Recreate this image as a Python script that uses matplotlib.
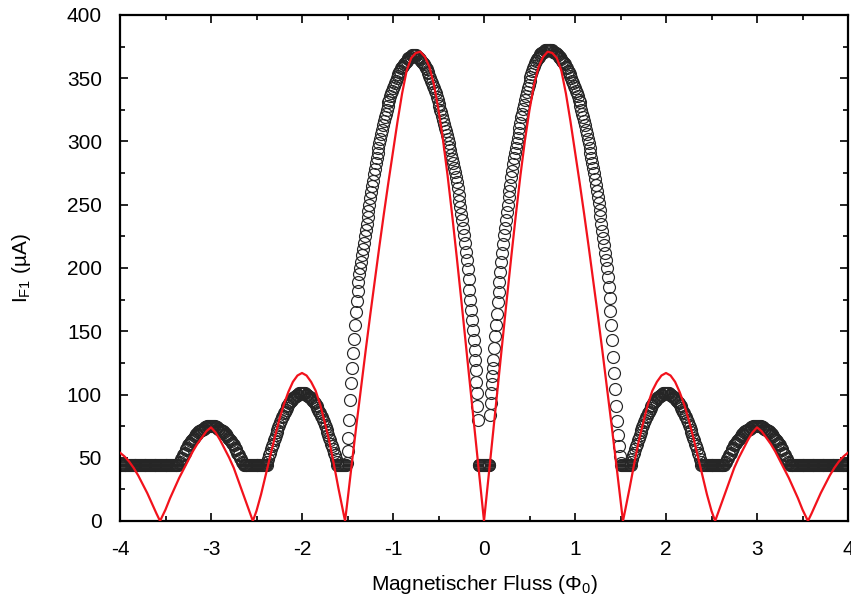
import numpy as np
import matplotlib
matplotlib.use("Agg")
import matplotlib.pyplot as plt
from matplotlib.ticker import MultipleLocator

plt.rcParams["font.family"] = ["Liberation Sans", "DejaVu Sans"]
plt.rcParams["mathtext.fontset"] = "custom"
plt.rcParams["mathtext.rm"] = "Liberation Sans"
plt.rcParams["mathtext.it"] = "Liberation Sans:italic"

# ---- measured critical current I_F1 (µA), stored per flux segment ----
# each entry below: (first flux value, flux step, currents)
floor_a = [44, 44, 44, 44, 44, 44, 44, 44, 44, 44, 44, 44, 44, 44, 44, 44,
           44, 44, 44, 44, 44, 44, 44, 44, 44, 44, 44, 44, 44, 44, 44, 44,
           44, 44, 44, 44, 44, 44, 44, 44, 44, 44, 44, 44, 44, 44, 44, 44,
           44, 44, 44, 44, 44, 44, 44, 44, 44, 44, 44, 44, 44, 44, 44, 44]
lobe_m3 = [44, 46, 47, 49, 50, 52, 53, 54, 56, 57, 58, 60, 61, 62, 63, 64, 65, 66, 67, 68,
           69, 69, 70, 71, 71, 72, 72, 73, 73, 74, 74, 74, 75, 75, 75, 75,
           75, 75, 75, 75, 75, 74, 74, 74, 73, 73, 72, 72, 71, 71, 70, 69, 69, 68, 67, 66,
           65, 64, 63, 62, 61, 60, 58, 57, 56, 54, 53, 52, 50, 49, 47, 46, 44]
floor_b = [44, 44, 44, 44, 44, 44, 44, 44, 44, 44, 44, 44, 44, 44, 44, 44,
           44, 44, 44, 44, 44, 44, 44, 44, 44]
lobe_m2 = [47, 49, 52, 54, 57, 59, 61, 64, 66, 68, 70, 72, 74, 76, 78, 80, 82, 83, 85, 86,
           88, 89, 91, 92, 93, 94, 95, 96, 97, 98, 98, 99, 100, 100, 100, 101, 101, 101,
           101, 101, 101, 101, 100, 100, 100, 99, 98, 98, 97, 96, 95, 94, 93, 92, 91, 89,
           88, 86, 85, 83, 82, 80, 78, 76, 74, 72, 70, 68, 66, 64, 61, 59, 57, 54, 52, 49,
           47, 44, 44]
floor_c = [44, 44, 44, 44, 44, 44, 44, 44]
main_l_rise = [46, 55, 66, 80, 96, 109, 121, 133, 144, 155, 165, 174, 182, 189, 195, 200,
               205, 210, 215, 220, 225, 230]
main_l_top = [235, 240, 245, 250, 255, 260, 265, 269, 274, 278, 283, 287, 291, 295, 299, 302,
              306, 309, 313, 316, 319, 322, 325, 328, 331, 333, 336, 338, 340, 342, 344, 346,
              348, 350, 352, 353, 355, 356, 358, 359, 360, 361, 362, 363, 364, 365, 366, 366,
              367, 367, 368, 368, 368, 368, 368, 367, 367, 366, 366, 365, 364, 363, 362, 361,
              360, 358, 357, 355, 354, 352, 350, 348, 346, 344, 342, 340, 338, 335, 333, 330,
              328, 325, 323, 320, 317, 314, 311, 308, 305, 302, 299, 296, 293, 289]
main_l_fall = [286, 283, 279, 276, 272, 268, 263, 258, 253, 248, 243, 238, 232, 226, 220, 213,
               206, 199, 191, 183, 175, 167, 159, 151, 143, 135]
main_l_end = [127, 119, 110, 101, 91, 80]
floor_d = [44, 44, 44, 44, 44, 44, 44, 44, 44, 44, 44, 44, 44]
main_r_start = [84, 93, 101, 108, 115, 121]
main_r_rise = [127, 137, 146, 155, 164, 173, 181, 189, 197, 205, 212, 219, 226, 232, 238, 244,
               250, 256, 261, 266, 272, 277, 282, 287, 291, 295]
main_r_top = [299, 303, 307, 311, 315, 319, 322, 326, 329, 333, 336, 339, 342, 345, 348, 351,
              353, 356, 358, 360, 362, 364, 365, 366, 367, 368, 369, 370, 370, 371, 371, 372,
              372, 372, 372, 372, 372, 372, 372, 372, 371, 371, 370, 370, 369, 368, 367, 367,
              366, 365, 364, 363, 362, 361, 359, 358, 356, 355, 353, 352, 350, 348, 346, 344,
              342, 340, 338, 336, 333, 331, 328, 325, 322, 319, 316, 313, 309, 306, 302, 299,
              295, 291, 287, 283, 279, 275, 270, 266, 261, 256, 251, 246, 241]
main_r_fall = [235, 229, 224, 218, 212, 206, 200, 193, 185, 176, 166, 155, 143, 130, 117, 104,
               91, 79, 68, 59, 51, 46]
floor_e = [44, 44, 44, 44, 44, 44, 44, 44, 44, 44, 44]
lobe_p2 = [47, 49, 52, 54, 57, 59, 61, 64, 66, 68, 70, 72, 74, 76, 78, 80, 82, 83, 85, 86,
           88, 89, 91, 92, 93, 94, 95, 96, 97, 98, 98, 99, 100, 100, 100, 101, 101, 101,
           101, 101, 101, 101, 100, 100, 100, 99, 98, 98, 97, 96, 95, 94, 93, 92, 91, 89,
           88, 86, 85, 83, 82, 80, 78, 76, 74, 72, 70, 68, 66, 64, 61, 59, 57, 54, 52, 49,
           47, 44, 44]
floor_f = [44, 44, 44, 44, 44, 44, 44, 44, 44, 44, 44, 44, 44, 44, 44, 44,
           44, 44, 44, 44, 44, 44, 44]
lobe_p3 = [44, 46, 47, 49, 50, 52, 53, 54, 56, 57, 58, 60, 61, 62, 63, 64, 65, 66, 67, 68,
           69, 69, 70, 71, 71, 72, 72, 73, 73, 74, 74, 74, 75, 75, 75, 75,
           75, 75, 75, 75, 75, 74, 74, 74, 73, 73, 72, 72, 71, 71, 70, 69, 69, 68, 67, 66,
           65, 64, 63, 62, 61, 60, 58, 57, 56, 54, 53, 52, 50, 49, 47, 46, 44]
floor_g = [44, 44, 44, 44, 44, 44, 44, 44, 44, 44, 44, 44, 44, 44, 44, 44,
           44, 44, 44, 44, 44, 44, 44, 44, 44, 44, 44, 44, 44, 44, 44, 44,
           44, 44, 44, 44, 44, 44, 44, 44, 44, 44, 44, 44, 44, 44, 44, 44,
           44, 44, 44, 44, 44, 44, 44, 44, 44, 44, 44, 44, 44, 44, 44, 44]

segments = [
    (-4.00, 0.01, floor_a), (-3.36, 0.01, lobe_m3), (-2.63, 0.01, floor_b),
    (-2.38, 0.01, lobe_m2), (-1.59, 0.01, floor_c), (-1.51, 0.01, main_l_rise),
    (-1.29, 0.01, main_l_top), (-0.35, 0.01, main_l_fall), (-0.095, 0.005, main_l_end),
    (-0.06, 0.01, floor_d), (0.07, 0.005, main_r_start), (0.10, 0.01, main_r_rise),
    (0.36, 0.01, main_r_top), (1.29, 0.01, main_r_fall), (1.51, 0.01, floor_e),
    (1.62, 0.01, lobe_p2), (2.41, 0.01, floor_f), (2.64, 0.01, lobe_p3),
    (3.37, 0.01, floor_g),
]

# ---- calculated pattern (µA), symmetric in flux; positive half listed ----
theory_flux_pos = [0.00, 0.05, 0.10, 0.15, 0.20, 0.25, 0.30, 0.35, 0.40, 0.45, 0.50, 0.55,
                   0.60, 0.65, 0.70, 0.75, 0.80, 0.85, 0.90, 0.95, 1.00, 1.05, 1.10, 1.15,
                   1.20, 1.25, 1.30, 1.35, 1.40, 1.45, 1.50, 1.527,
                   1.55, 1.60, 1.65, 1.70, 1.75, 1.80, 1.85, 1.90, 1.95, 2.00, 2.05, 2.10,
                   2.15, 2.20, 2.25, 2.30, 2.35, 2.40, 2.45, 2.50, 2.54,
                   2.60, 2.65, 2.70, 2.75, 2.80, 2.85, 2.90, 2.95, 3.00, 3.05, 3.10, 3.15,
                   3.20, 3.25, 3.30, 3.35, 3.40, 3.45, 3.50, 3.56,
                   3.60, 3.65, 3.70, 3.75, 3.80, 3.85, 3.90, 3.95, 4.00]
theory_current_pos = [0, 35, 70, 105, 140, 175, 209, 242, 273, 301, 325, 345,
                      359, 367, 371, 370, 366, 356, 338, 316, 292, 268, 243, 217,
                      190, 163, 135, 106, 77, 47, 16, 0,
                      8, 26, 45, 63, 78, 92, 103, 110, 115, 117, 115, 110,
                      102, 92, 80, 66, 51, 36, 21, 8, 0,
                      12, 22, 32, 42, 50, 57, 64, 70, 74, 71, 66, 61,
                      55, 48, 41, 34, 26, 18, 9, 0,
                      6, 14, 22, 29, 36, 42, 47, 51, 54]

x_ticks = [-4, -3, -2, -1, 0, 1, 2, 3, 4]
y_ticks = [0, 50, 100, 150, 200, 250, 300, 350, 400]

# ---- assemble ----
flux_meas = np.concatenate([x0 + dx * np.arange(len(v)) for x0, dx, v in segments])
curr_meas = np.concatenate([np.asarray(v, float) for _, _, v in segments])

tp = np.asarray(theory_flux_pos)
tc = np.asarray(theory_current_pos, float)
flux_theo = np.concatenate([-tp[::-1], tp[1:]])
curr_theo = np.concatenate([tc[::-1], tc[1:]])

# ---- figure ----
fig = plt.figure(figsize=(8.51, 6.05), dpi=100)
ax = fig.add_axes([120 / 851, 1 - 521 / 605, 728 / 851, 506 / 605])

ax.plot(flux_meas, curr_meas, linestyle="none", marker="o", markersize=8.6,
        markerfacecolor="none", markeredgecolor="#262626", markeredgewidth=0.85, zorder=2)
ax.plot(flux_theo, curr_theo, color="#f2121c", linewidth=1.6, zorder=3)

ax.set_xlim(-4, 4)
ax.set_ylim(0, 400)
ax.set_xticks(x_ticks)
ax.set_yticks(y_ticks)
ax.set_xticklabels([str(t) for t in x_ticks])
ax.set_yticklabels([str(t) for t in y_ticks])
ax.xaxis.set_minor_locator(MultipleLocator(0.5))
ax.yaxis.set_minor_locator(MultipleLocator(25))

ax.tick_params(which="both", direction="in", top=True, right=True, width=1.2,
               labelsize=15, colors="black")
ax.tick_params(which="major", length=6)
ax.tick_params(which="minor", length=3.5)
ax.tick_params(axis="x", which="major", pad=14)
ax.tick_params(axis="y", which="major", pad=13)
for s in ax.spines.values():
    s.set_linewidth(1.6)

ax.set_xlabel(r"Magnetischer Fluss ($\Phi_{0}$)", fontsize=15, labelpad=10)
ax.set_ylabel(r"I$_{\mathrm{F1}}$ (µA)", fontsize=15, labelpad=24)

fig.savefig("out.png", dpi=100, facecolor="white")
